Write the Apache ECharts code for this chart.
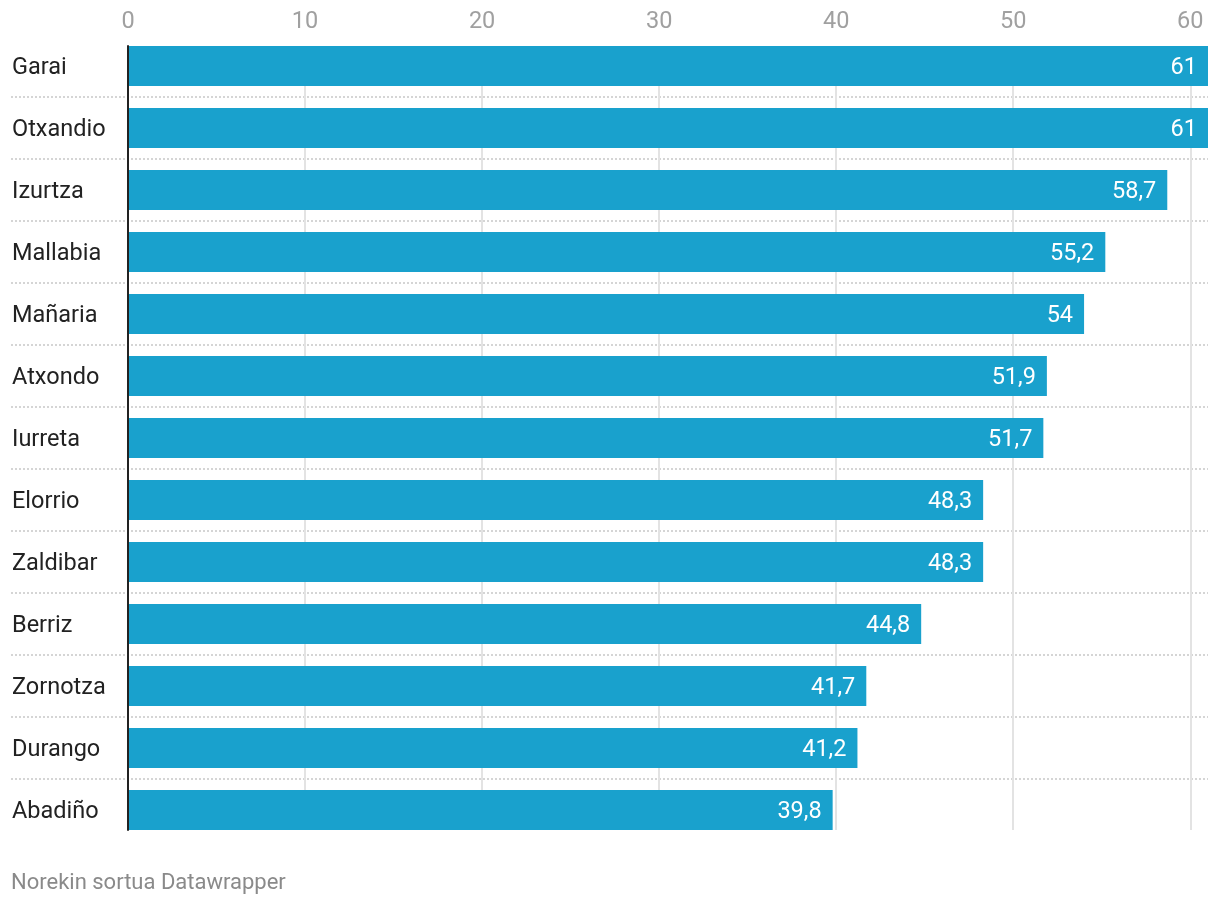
<!DOCTYPE html>
<html>
<head>
<meta charset="utf-8">
<script src="https://cdn.jsdelivr.net/npm/echarts@6/dist/echarts.min.js"></script>
<style>html,body{margin:0;padding:0;background:#fff}#c{width:1220px;height:906px}</style>
</head>
<body>
<div id="c"></div>
<script>
const categories = ['Garai','Otxandio','Izurtza','Mallabia','Mañaria','Atxondo','Iurreta','Elorrio','Zaldibar','Berriz','Zornotza','Durango','Abadiño'];
const values = [61, 61, 58.7, 55.2, 54, 51.9, 51.7, 48.3, 48.3, 44.8, 41.7, 41.2, 39.8];
const tickLabels = [0, 10, 20, 30, 40, 50, 60];
const footer = 'Norekin sortua Datawrapper';

const FONT = 'Roboto, "Noto Sans", sans-serif';
const XMAX = 61;
const fmt = v => String(v).replace('.', ',');

const chart = echarts.init(document.getElementById('c'), null, {renderer: 'canvas'});
chart.setOption({
  animation: false,
  backgroundColor: '#fff',
  title: {
    text: footer, left: 11, top: 872, padding: 0,
    textStyle: {fontFamily: FONT, fontSize: 22, fontWeight: 'normal', color: '#8a8a8a'}
  },
  grid: [
    {left: 128, right: 12, top: 35, height: 806},
    {left: 128, right: 12, top: 46, bottom: 76},
    {left: 11, right: 12, top: 35, height: 806}
  ],
  xAxis: [
    {gridIndex: 0, type: 'value', min: 0, max: XMAX, show: false},
    {gridIndex: 1, type: 'value', min: 0, max: XMAX, interval: 10, position: 'top',
     axisLine: {show: false}, axisTick: {show: false},
     axisLabel: {show: true, margin: 12, fontFamily: FONT, fontSize: 23.5, color: '#a0a0a0',
       showMaxLabel: false,
       formatter: v => tickLabels.indexOf(v) >= 0 ? String(v) : ''},
     splitLine: {show: true, showMaxLine: false, showMinLine: false, lineStyle: {color: '#e3e3e3', width: 2}}},
    {gridIndex: 2, type: 'value', min: 0, max: 1, show: false}
  ],
  yAxis: [
    {gridIndex: 0, type: 'category', data: categories, inverse: true,
     axisLine: {show: false}, axisTick: {show: false}, splitLine: {show: false},
     axisLabel: {align: 'left', margin: 116, fontFamily: FONT, fontSize: 23.5, color: '#222',
       formatter: v => '{a|' + v + '}',
       rich: {a: {fontFamily: FONT, fontSize: 23.5, color: '#222', padding: [5, 0, 0, 0]}}}},
    {gridIndex: 1, type: 'category', data: categories, inverse: true, z: 10,
     axisLine: {show: true, lineStyle: {color: '#222', width: 2}},
     axisTick: {show: false}, axisLabel: {show: false}, splitLine: {show: false}},
    {gridIndex: 2, type: 'category', data: categories, inverse: true,
     axisLine: {show: false}, axisTick: {show: false}, axisLabel: {show: false},
     splitLine: {show: true, showMinLine: false, showMaxLine: false,
       lineStyle: {color: '#c8c8c8', width: 1.5, type: [2, 2]}}}
  ],
  series: [
    {type: 'bar', xAxisIndex: 0, yAxisIndex: 0, data: values, barWidth: 40,
     itemStyle: {color: '#19a1cd'},
     label: {show: true, position: 'insideRight', distance: 11, offset: [0, 2], color: '#fff',
       fontFamily: FONT, fontSize: 23.5, formatter: p => fmt(p.value)}}
  ]
});
</script>
</body>
</html>
